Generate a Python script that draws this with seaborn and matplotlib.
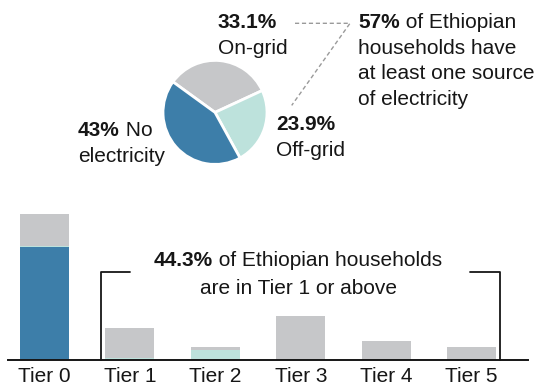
import numpy as np
import pandas as pd
import matplotlib
matplotlib.use("Agg")
import matplotlib.pyplot as plt
import seaborn as sns

# ---- data ----
tiers = ["Tier 0", "Tier 1", "Tier 2", "Tier 3", "Tier 4", "Tier 5"]
no_elec = [43.0, 0, 0, 0, 0, 0]
off_grid = [0.4, 0.8, 3.8, 0, 0, 0]
on_grid = [12.3, 11.4, 1.2, 16.9, 7.2, 5.0]

pie_labels = ["On-grid", "Off-grid", "No electricity"]
pie_values = [33.1, 23.9, 43.0]

BLUE = "#3d7ea9"
GRAY = "#c6c7c9"
TEAL = "#bde2dc"
DARK = "#161616"

sns.set_style("white")
plt.rcParams["font.family"] = ["Liberation Sans", "DejaVu Sans"]

W, H = 538, 385
fig = plt.figure(figsize=(W / 100, H / 100), dpi=100)

def fx(x):
    return x / W

def fy(y):
    return 1 - y / H

FS = 15

# ---- bar chart ----
ax = fig.add_axes([fx(8), fy(360), fx(520), 160 / H])
df = pd.DataFrame({"tier": tiers,
                   "no": no_elec, "off": off_grid, "on": on_grid})
df["total"] = df["no"] + df["off"] + df["on"]
df["lower2"] = df["no"] + df["off"]

bw = 0.574
sns.barplot(data=df, x="tier", y="total", color=GRAY, saturation=1,
            width=bw, ax=ax, linewidth=0)
sns.barplot(data=df, x="tier", y="lower2", color=TEAL, saturation=1,
            width=bw, ax=ax, linewidth=0)
sns.barplot(data=df, x="tier", y="no", color=BLUE, saturation=1,
            width=bw, ax=ax, linewidth=0)
ax.set_xlim(-0.427, 5.66)
ax.set_ylim(0, 160 / 2.621)
for s in ["left", "right", "top"]:
    ax.spines[s].set_visible(False)
ax.spines["bottom"].set_color(DARK)
ax.spines["bottom"].set_linewidth(1.4)
ax.set_yticks([])
ax.tick_params(axis="x", length=0, pad=5, labelsize=FS, labelcolor=DARK)
ax.set_xlabel("")
ax.set_ylabel("")

# ---- pie ----
cx, cy, r = 215, 112.4, 52
pax = fig.add_axes([fx(cx - r), fy(cy + r), 2 * r / W, 2 * r / H])
pax.pie(pie_values, colors=[GRAY, TEAL, BLUE], startangle=144,
        counterclock=False, radius=1,
        wedgeprops=dict(edgecolor="white", linewidth=2))
pax.set_xlim(-1, 1)
pax.set_ylim(-1, 1)
pax.set_aspect("auto")
pax.axis("off")

# ---- text helpers ----
fig.canvas.draw()
renderer = fig.canvas.get_renderer()

def width_of(s, weight):
    t = fig.text(0, 0, s, fontsize=FS, fontweight=weight)
    w = t.get_window_extent(renderer).width
    t.remove()
    return w

def mixed(x, y, parts, ha="left"):
    widths = [width_of(s, wgt) for s, wgt in parts]
    total = sum(widths)
    if ha == "center":
        x = x - total / 2
    for (s, wgt), w in zip(parts, widths):
        fig.text(fx(x), fy(y), s, fontsize=FS, fontweight=wgt,
                 color=DARK, va="center", ha="left")
        x += w

B, N = "bold", "normal"
mixed(218, 22.6, [(f"{pie_values[0]}%", B)])
mixed(218, 48, [(pie_labels[0], N)])
mixed(276, 124.2, [(f"{pie_values[1]}%", B)])
mixed(276, 150, [(pie_labels[1], N)])
mixed(78, 130.7, [(f"{pie_values[2]:.0f}%", B), (" No", N)])
mixed(78, 156, [("electricity", N)])

mixed(358, 22.6, [("57%", B), (" of Ethiopian", N)])
mixed(358, 48, [("households have", N)])
mixed(358, 73.8, [("at least one source", N)])
mixed(358, 99.5, [("of electricity", N)])

mixed(298, 261, [("44.3%", B), (" of Ethiopian households", N)], ha="center")
mixed(298, 288.5, [("are in Tier 1 or above", N)], ha="center")

# dashed connector
fig.add_artist(plt.Line2D([fx(295), fx(350), fx(291.7)],
                          [fy(23.3), fy(23.3), fy(105.4)],
                          color="#9a9a9a", lw=1, ls=(0, (3, 2))))
# bracket
fig.add_artist(plt.Line2D([fx(130), fx(101), fx(101)],
                          [fy(272), fy(272), fy(360)], color=DARK, lw=1.3))
fig.add_artist(plt.Line2D([fx(469.5), fx(500), fx(500)],
                          [fy(272), fy(272), fy(360)], color=DARK, lw=1.3))

fig.savefig("out.png", dpi=100)
